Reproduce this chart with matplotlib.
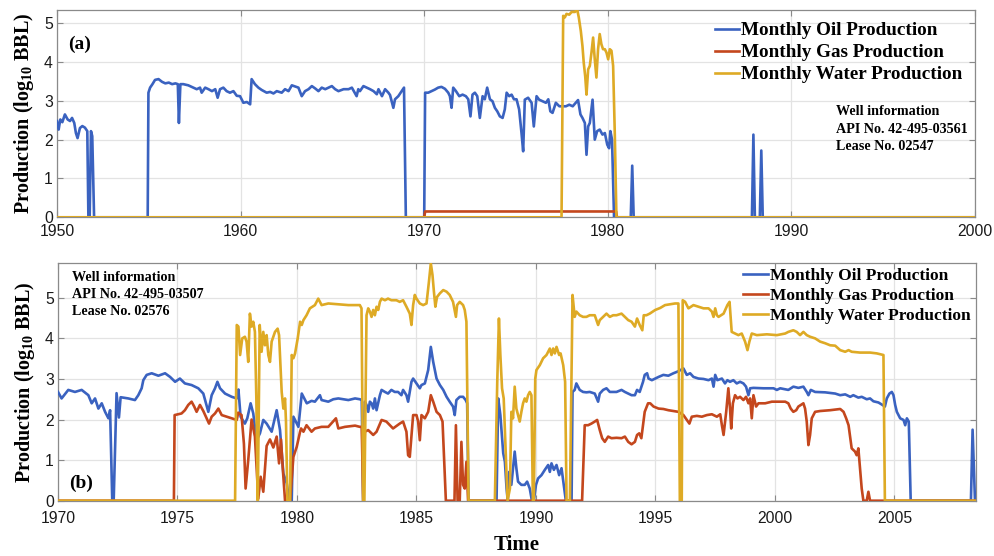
import matplotlib
matplotlib.use("Agg")
import matplotlib.pyplot as plt
import numpy as np

# ---------------- Panel (a) data: API 42-495-03561 ----------------
a_oil_t = [1950.00, 1950.09, 1950.18, 1950.29, 1950.43, 1950.58, 1950.71, 1950.82, 1950.94, 1951.03,
           1951.12, 1951.25, 1951.38, 1951.52, 1951.65, 1951.71, 1951.78, 1951.85, 1951.92, 1952.02,
           1954.94, 1954.98, 1955.07, 1955.20, 1955.34, 1955.53, 1955.72, 1955.90, 1956.09, 1956.27,
           1956.45, 1956.58, 1956.64, 1956.72, 1956.88, 1957.15, 1957.42, 1957.61, 1957.79, 1957.88,
           1958.07, 1958.25, 1958.44, 1958.62, 1958.75, 1958.88, 1959.06, 1959.24, 1959.42, 1959.61,
           1959.79, 1959.97, 1960.15, 1960.34, 1960.52, 1960.60, 1960.78, 1960.97, 1961.15, 1961.42,
           1961.61, 1961.79, 1961.97, 1962.24, 1962.42, 1962.61, 1962.79, 1962.97, 1963.15, 1963.33,
           1963.51, 1963.70, 1963.88, 1964.06, 1964.24, 1964.42, 1964.61, 1964.79, 1964.97, 1965.15,
           1965.33, 1965.61, 1965.88, 1966.06, 1966.32, 1966.41, 1966.50, 1966.69, 1966.87, 1967.05,
           1967.24, 1967.42, 1967.51, 1967.70, 1967.87, 1968.05, 1968.14, 1968.32, 1968.41, 1968.59,
           1968.77, 1968.90, 1969.00, 1970.00, 1970.05, 1970.22, 1970.40, 1970.58, 1970.76, 1970.94,
           1971.13, 1971.31, 1971.40, 1971.49, 1971.58, 1971.73, 1971.91, 1972.09, 1972.27, 1972.40,
           1972.52, 1972.63, 1972.76, 1972.89, 1973.03, 1973.18, 1973.30, 1973.43, 1973.58, 1973.72,
           1973.85, 1973.98, 1974.12, 1974.27, 1974.39, 1974.49, 1974.63, 1974.76, 1974.89, 1975.03,
           1975.17, 1975.30, 1975.39, 1975.48, 1975.66, 1975.85, 1975.97, 1976.12, 1976.26, 1976.44,
           1976.63, 1976.76, 1976.87, 1976.99, 1977.17, 1977.36, 1977.54, 1977.72, 1977.90, 1978.09,
           1978.38, 1978.51, 1978.62, 1978.75, 1978.84, 1978.93, 1979.02, 1979.17, 1979.29, 1979.42,
           1979.56, 1979.71, 1979.84, 1979.97, 1980.07, 1980.14, 1980.23, 1980.34, 1981.25, 1981.33,
           1981.41, 1987.85, 1987.93, 1988.01, 1988.28, 1988.36, 1988.44, 2000.00]
a_oil_v = [2.48, 2.26, 2.52, 2.45, 2.65, 2.52, 2.48, 2.56, 2.43, 2.17,
           2.04, 2.30, 2.35, 2.31, 2.22, 0.00, 0.00, 2.22, 2.09, 0.00,
           0.00, 3.21, 3.34, 3.43, 3.54, 3.56, 3.49, 3.45, 3.47, 3.43,
           3.45, 3.43, 2.43, 3.43, 3.43, 3.40, 3.34, 3.30, 3.34, 3.21,
           3.34, 3.30, 3.25, 3.30, 3.08, 3.30, 3.34, 3.25, 3.21, 3.25,
           3.13, 3.12, 2.95, 2.97, 2.91, 3.56, 3.43, 3.34, 3.28, 3.21,
           3.23, 3.19, 3.25, 3.21, 3.30, 3.25, 3.40, 3.37, 3.34, 3.12,
           3.25, 3.30, 3.38, 3.32, 3.25, 3.34, 3.30, 3.34, 3.38, 3.30,
           3.25, 3.30, 3.30, 3.34, 3.12, 3.30, 3.25, 3.38, 3.34, 3.30,
           3.25, 3.17, 3.30, 3.12, 3.30, 3.21, 3.15, 2.82, 3.04, 3.12,
           3.25, 3.34, 0.00, 0.00, 3.21, 3.21, 3.25, 3.29, 3.34, 3.36,
           3.31, 3.21, 3.12, 2.82, 3.34, 3.25, 3.12, 3.16, 3.12, 3.04,
           2.60, 3.16, 3.21, 3.12, 2.56, 3.12, 3.04, 3.34, 3.04, 2.99,
           2.82, 2.73, 2.60, 2.56, 2.78, 3.21, 3.12, 3.16, 3.04, 3.04,
           2.78, 2.17, 1.70, 3.03, 3.08, 2.95, 2.34, 3.12, 3.03, 2.99,
           2.95, 3.04, 2.73, 2.69, 2.95, 2.86, 2.86, 2.86, 2.90, 2.86,
           3.02, 2.65, 2.56, 2.43, 1.61, 2.34, 2.43, 3.03, 2.00, 2.22,
           2.26, 2.13, 2.17, 1.87, 1.78, 2.22, 2.00, 0.00, 0.00, 1.33,
           0.00, 0.00, 2.13, 0.00, 0.00, 1.72, 0.00, 0.00]

a_gas_t = [1950.00, 1970.00, 1970.05, 1980.45, 1980.50, 2000.00]
a_gas_v = [0.00, 0.00, 0.15, 0.15, 0.00, 0.00]

a_wat_t = [1950.00, 1977.48, 1977.57, 1977.66, 1977.75, 1977.90, 1978.03, 1978.21, 1978.33, 1978.42,
           1978.53, 1978.62, 1978.69, 1978.77, 1978.84, 1978.93, 1979.02, 1979.11, 1979.20, 1979.29,
           1979.38, 1979.47, 1979.56, 1979.65, 1979.74, 1979.84, 1979.93, 1980.02, 1980.11, 1980.20,
           1980.29, 1980.38, 1980.47, 2000.00]
a_wat_v = [0.00, 0.00, 5.19, 5.15, 5.24, 5.22, 5.29, 5.29, 5.36, 5.15,
           4.80, 4.41, 3.98, 3.63, 3.16, 3.81, 3.90, 4.24, 4.63, 4.07,
           3.60, 4.33, 4.72, 4.46, 4.33, 4.33, 4.24, 4.07, 4.33, 4.29,
           3.90, 2.17, 0.00, 0.00]

# ---------------- Panel (b) data: API 42-495-03507 ----------------
b_oil_t = [1970.00, 1970.15, 1970.43, 1970.71, 1970.99, 1971.27, 1971.41, 1971.55, 1971.69, 1971.83,
           1971.97, 1972.11, 1972.18, 1972.27, 1972.33, 1972.45, 1972.55, 1972.62, 1972.94, 1973.22,
           1973.36, 1973.50, 1973.57, 1973.71, 1973.92, 1974.20, 1974.48, 1974.69, 1974.90, 1975.10,
           1975.31, 1975.59, 1975.87, 1976.08, 1976.29, 1976.43, 1976.57, 1976.67, 1976.78, 1976.99,
           1977.27, 1977.48, 1977.55, 1977.64, 1977.82, 1977.92, 1978.06, 1978.17, 1978.31, 1978.45,
           1978.59, 1978.73, 1978.94, 1979.15, 1979.29, 1979.43, 1979.57, 1979.68, 1979.78, 1979.85,
           1980.06, 1980.20, 1980.41, 1980.61, 1980.75, 1980.96, 1981.03, 1981.31, 1981.52, 1981.73,
           1981.94, 1982.15, 1982.43, 1982.63, 1982.71, 1982.77, 1982.84, 1982.91, 1982.98, 1983.05,
           1983.12, 1983.19, 1983.26, 1983.33, 1983.47, 1983.54, 1983.68, 1983.81, 1983.95, 1984.09,
           1984.23, 1984.37, 1984.44, 1984.58, 1984.65, 1984.79, 1984.86, 1985.00, 1985.14, 1985.21,
           1985.35, 1985.49, 1985.60, 1985.70, 1985.84, 1985.98, 1986.12, 1986.26, 1986.39, 1986.53,
           1986.60, 1986.67, 1986.81, 1986.95, 1987.06, 1987.12, 1987.18, 1988.35, 1988.42, 1988.51,
           1988.63, 1988.70, 1988.77, 1988.82, 1988.88, 1988.97, 1989.11, 1989.18, 1989.25, 1989.39,
           1989.53, 1989.63, 1989.74, 1989.83, 1989.91, 1990.00, 1990.09, 1990.23, 1990.37, 1990.51,
           1990.58, 1990.65, 1990.75, 1990.86, 1990.97, 1991.07, 1991.16, 1991.25, 1991.49, 1991.53,
           1991.62, 1991.69, 1991.83, 1991.97, 1992.11, 1992.25, 1992.46, 1992.60, 1992.67, 1992.81,
           1992.95, 1993.09, 1993.23, 1993.37, 1993.58, 1993.72, 1993.86, 1994.00, 1994.14, 1994.23,
           1994.34, 1994.48, 1994.55, 1994.65, 1994.71, 1994.85, 1994.99, 1995.13, 1995.33, 1995.54,
           1995.75, 1995.96, 1996.17, 1996.31, 1996.45, 1996.59, 1996.80, 1997.01, 1997.22, 1997.36,
           1997.43, 1997.50, 1997.59, 1997.78, 1997.91, 1998.01, 1998.12, 1998.26, 1998.40, 1998.54,
           1998.68, 1998.79, 1998.89, 1998.96, 1999.10, 1999.52, 1999.94, 2000.08, 2000.22, 2000.56,
           2000.77, 2000.98, 2001.19, 2001.33, 2001.40, 2001.50, 2001.68, 2002.10, 2002.52, 2002.73,
           2002.94, 2003.15, 2003.28, 2003.49, 2003.63, 2003.84, 2003.98, 2004.12, 2004.33, 2004.47,
           2004.60, 2004.68, 2004.79, 2004.89, 2004.96, 2005.03, 2005.10, 2005.24, 2005.38, 2005.45,
           2005.52, 2005.60, 2005.68, 2008.20, 2008.27, 2008.37, 2008.50]
b_oil_v = [2.68, 2.52, 2.73, 2.68, 2.73, 2.60, 2.40, 2.52, 2.27, 2.40,
           2.19, 2.03, 2.23, 0.00, 0.00, 2.65, 2.05, 2.55, 2.52, 2.48,
           2.60, 2.77, 2.97, 3.10, 3.14, 3.08, 3.14, 3.05, 2.93, 3.01,
           2.89, 2.85, 2.77, 2.64, 2.19, 2.60, 2.77, 2.93, 2.77, 2.64,
           2.56, 2.52, 2.74, 2.07, 1.90, 2.03, 2.40, 2.15, 1.49, 1.66,
           1.99, 1.90, 1.70, 2.23, 1.74, 0.67, 0.43, 0.00, 0.00, 2.07,
           1.82, 2.64, 2.40, 2.46, 2.44, 2.60, 2.48, 2.44, 2.50, 2.52,
           2.50, 2.48, 2.52, 2.50, 2.48, 0.00, 2.44, 2.36, 2.19, 2.44,
           2.40, 2.27, 2.52, 2.23, 2.60, 2.73, 2.68, 2.64, 2.73, 2.68,
           2.68, 2.60, 2.73, 2.60, 2.44, 2.93, 3.01, 2.89, 2.77, 2.85,
           2.89, 3.22, 3.79, 3.42, 3.01, 2.85, 2.73, 2.56, 2.44, 2.32,
           2.11, 2.48, 2.56, 2.56, 2.48, 2.40, 0.00, 0.00, 2.52, 2.11,
           1.17, 0.96, 0.30, 0.00, 0.71, 0.39, 1.21, 0.80, 0.47, 0.39,
           0.39, 0.47, 0.30, 0.00, 0.00, 0.39, 0.55, 0.63, 0.76, 0.88,
           0.71, 0.92, 0.76, 0.88, 0.63, 0.80, 0.39, 0.00, 0.00, 2.68,
           2.73, 2.89, 2.73, 2.68, 2.67, 2.68, 2.64, 2.44, 2.64, 2.73,
           2.77, 2.68, 2.68, 2.68, 2.73, 2.68, 2.64, 2.60, 2.60, 2.73,
           2.68, 2.93, 3.10, 3.14, 3.01, 2.97, 3.01, 3.05, 3.10, 3.08,
           3.14, 3.19, 3.26, 3.10, 3.14, 3.05, 3.01, 3.00, 2.97, 3.01,
           2.81, 3.10, 2.97, 3.01, 2.89, 2.97, 2.93, 2.97, 2.89, 2.93,
           2.89, 2.81, 2.60, 2.77, 2.78, 2.77, 2.77, 2.73, 2.77, 2.73,
           2.81, 2.78, 2.81, 2.68, 2.60, 2.73, 2.68, 2.67, 2.64, 2.60,
           2.62, 2.56, 2.60, 2.54, 2.56, 2.50, 2.52, 2.45, 2.42, 2.37,
           2.32, 2.52, 2.64, 2.68, 2.60, 2.36, 2.19, 2.03, 1.99, 1.86,
           2.03, 1.95, 0.00, 0.00, 1.75, 0.00, 0.00]

b_gas_t = [1970.00, 1974.85, 1974.88, 1975.03, 1975.17, 1975.31, 1975.45, 1975.59, 1975.70, 1975.80,
           1975.94, 1976.08, 1976.22, 1976.32, 1976.43, 1976.57, 1976.71, 1976.85, 1977.06, 1977.27,
           1977.48, 1977.54, 1977.68, 1977.78, 1977.85, 1977.96, 1978.10, 1978.24, 1978.38, 1978.48,
           1978.59, 1978.73, 1978.87, 1979.01, 1979.15, 1979.25, 1979.33, 1979.40, 1979.50, 1979.71,
           1979.85, 1979.99, 1980.13, 1980.17, 1980.27, 1980.40, 1980.61, 1980.75, 1981.03, 1981.31,
           1981.63, 1981.73, 1982.01, 1982.43, 1982.63, 1982.71, 1982.77, 1982.84, 1982.98, 1983.19,
           1983.33, 1983.54, 1983.74, 1984.02, 1984.30, 1984.44, 1984.58, 1984.65, 1984.72, 1984.86,
           1985.00, 1985.07, 1985.14, 1985.21, 1985.35, 1985.49, 1985.60, 1985.70, 1985.84, 1985.98,
           1986.09, 1986.23, 1986.59, 1986.65, 1986.72, 1986.81, 1986.88, 1986.95, 1987.02, 1987.09,
           1987.16, 1991.93, 1992.04, 1992.18, 1992.32, 1992.46, 1992.56, 1992.67, 1992.77, 1992.88,
           1993.02, 1993.16, 1993.37, 1993.58, 1993.72, 1993.86, 1994.00, 1994.14, 1994.23, 1994.32,
           1994.41, 1994.55, 1994.69, 1994.78, 1994.92, 1995.13, 1995.33, 1995.54, 1995.75, 1995.96,
           1996.17, 1996.31, 1996.42, 1996.52, 1996.73, 1996.94, 1997.15, 1997.36, 1997.57, 1997.71,
           1997.78, 1997.85, 1997.96, 1998.05, 1998.12, 1998.17, 1998.24, 1998.33, 1998.43, 1998.54,
           1998.68, 1998.79, 1998.89, 1998.96, 1999.03, 1999.10, 1999.21, 1999.31, 1999.59, 1999.87,
           2000.15, 2000.43, 2000.56, 2000.66, 2000.77, 2000.89, 2000.98, 2001.19, 2001.26, 2001.33,
           2001.40, 2001.47, 2001.54, 2001.68, 2001.89, 2002.31, 2002.73, 2002.87, 2002.98, 2003.08,
           2003.21, 2003.35, 2003.42, 2003.49, 2003.56, 2003.63, 2003.70, 2003.84, 2003.91, 2003.98,
           2008.50]
b_gas_v = [0.00, 0.00, 2.11, 2.13, 2.15, 2.23, 2.36, 2.44, 2.32, 2.19,
           2.36, 2.21, 2.03, 1.90, 2.07, 2.15, 2.27, 2.11, 2.07, 2.03,
           1.99, 2.17, 2.11, 1.40, 0.30, 1.00, 2.00, 1.58, 0.05, 0.59,
           0.22, 1.35, 1.51, 1.31, 1.58, 0.92, 1.51, 0.84, 0.00, 0.00,
           1.08, 1.33, 1.70, 1.78, 1.70, 1.86, 1.70, 1.78, 1.82, 1.82,
           2.03, 1.78, 1.82, 1.85, 1.82, 1.82, 0.00, 1.70, 1.74, 1.62,
           1.70, 1.99, 1.95, 1.78, 1.90, 1.95, 1.70, 1.12, 1.08, 2.11,
           2.11, 1.95, 1.49, 2.11, 2.03, 2.19, 2.60, 2.44, 2.19, 2.11,
           1.95, 0.00, 0.00, 1.86, 0.00, 0.00, 1.45, 0.39, 0.30, 0.96,
           0.00, 0.00, 1.86, 1.86, 1.90, 1.95, 1.99, 1.74, 1.54, 1.45,
           1.58, 1.54, 1.55, 1.54, 1.58, 1.45, 1.39, 1.45, 1.62, 1.66,
           1.54, 2.19, 2.40, 2.40, 2.32, 2.27, 2.26, 2.23, 2.21, 2.19,
           2.11, 1.99, 1.90, 2.07, 2.09, 2.07, 2.11, 2.13, 2.07, 2.13,
           1.86, 1.62, 2.19, 2.77, 2.27, 1.78, 2.40, 2.60, 2.52, 2.56,
           2.48, 2.56, 2.40, 2.52, 2.03, 2.60, 2.32, 2.40, 2.40, 2.44,
           2.44, 2.44, 2.40, 2.27, 2.19, 2.23, 2.32, 2.40, 2.27, 1.95,
           1.37, 1.62, 2.03, 2.19, 2.21, 2.23, 2.26, 2.19, 2.03, 1.86,
           1.29, 1.21, 1.12, 1.29, 0.80, 0.30, 0.00, 0.00, 0.22, 0.00,
           0.00]

b_wat_t = [1970.00, 1977.41, 1977.48, 1977.55, 1977.62, 1977.71, 1977.82, 1977.89, 1977.96, 1978.03,
           1978.10, 1978.17, 1978.24, 1978.30, 1978.36, 1978.44, 1978.52, 1978.59, 1978.66, 1978.73,
           1978.80, 1978.87, 1978.94, 1979.08, 1979.19, 1979.25, 1979.36, 1979.43, 1979.50, 1979.54,
           1979.60, 1979.71, 1979.78, 1979.85, 1979.92, 1980.03, 1980.13, 1980.20, 1980.27, 1980.40,
           1980.54, 1980.75, 1980.89, 1981.03, 1981.31, 1981.73, 1982.15, 1982.63, 1982.70, 1982.77,
           1982.82, 1982.91, 1982.98, 1983.05, 1983.12, 1983.19, 1983.26, 1983.33, 1983.40, 1983.47,
           1983.54, 1983.68, 1983.81, 1983.95, 1984.16, 1984.30, 1984.44, 1984.58, 1984.72, 1984.79,
           1984.86, 1984.93, 1985.00, 1985.14, 1985.28, 1985.42, 1985.52, 1985.60, 1985.67, 1985.73,
           1985.79, 1985.86, 1985.98, 1986.12, 1986.26, 1986.39, 1986.53, 1986.65, 1986.70, 1986.81,
           1986.95, 1987.02, 1987.09, 1987.18, 1988.28, 1988.38, 1988.45, 1988.51, 1988.58, 1988.65,
           1988.74, 1988.81, 1988.91, 1988.97, 1989.04, 1989.11, 1989.18, 1989.25, 1989.32, 1989.39,
           1989.46, 1989.53, 1989.60, 1989.67, 1989.74, 1989.81, 1989.87, 1989.91, 1989.97, 1990.02,
           1990.16, 1990.30, 1990.44, 1990.58, 1990.65, 1990.72, 1990.79, 1990.86, 1990.97, 1991.03,
           1991.14, 1991.22, 1991.28, 1991.42, 1991.53, 1991.62, 1991.69, 1991.83, 1991.97, 1992.11,
           1992.25, 1992.46, 1992.60, 1992.67, 1992.81, 1992.95, 1993.09, 1993.23, 1993.37, 1993.58,
           1993.72, 1993.86, 1994.00, 1994.14, 1994.23, 1994.34, 1994.45, 1994.51, 1994.62, 1994.76,
           1994.99, 1995.20, 1995.40, 1995.61, 1995.82, 1995.96, 1996.02, 1996.10, 1996.14, 1996.24,
           1996.38, 1996.59, 1996.80, 1997.01, 1997.22, 1997.36, 1997.43, 1997.50, 1997.57, 1997.64,
           1997.85, 1998.01, 1998.10, 1998.19, 1998.33, 1998.47, 1998.61, 1998.75, 1998.85, 1998.93,
           1999.03, 1999.24, 1999.66, 2000.08, 2000.43, 2000.56, 2000.77, 2000.91, 2001.05, 2001.19,
           2001.33, 2001.47, 2001.68, 2001.89, 2002.10, 2002.31, 2002.52, 2002.73, 2002.94, 2003.08,
           2003.21, 2003.56, 2003.98, 2004.26, 2004.54, 2004.60, 2008.50]
b_wat_v = [0.00, 0.00, 4.33, 4.29, 3.59, 4.00, 4.04, 3.92, 3.42, 4.61,
           4.29, 4.41, 4.16, 2.50, 0.00, 4.33, 3.67, 4.16, 3.83, 4.08,
           3.59, 3.42, 3.92, 4.16, 4.24, 4.08, 2.68, 2.27, 2.52, 1.95,
           0.00, 0.00, 3.59, 3.51, 3.63, 4.00, 4.41, 4.33, 4.45, 4.57,
           4.74, 4.82, 4.98, 4.82, 4.86, 4.84, 4.82, 4.82, 4.74, 0.00,
           0.00, 4.57, 4.74, 4.66, 4.53, 4.70, 4.57, 4.78, 4.70, 4.90,
           4.98, 4.94, 4.98, 4.94, 4.94, 4.90, 4.94, 4.78, 4.61, 4.33,
           4.82, 5.07, 4.98, 4.86, 4.82, 4.86, 5.39, 5.85, 5.56, 5.15,
           4.78, 5.02, 5.11, 5.19, 5.15, 5.07, 4.90, 4.53, 4.82, 4.90,
           4.82, 4.70, 4.41, 0.00, 0.00, 2.93, 4.49, 3.59, 2.77, 2.52,
           1.12, 0.00, 0.30, 2.19, 2.03, 2.81, 2.27, 2.11, 1.95, 2.19,
           2.40, 2.52, 2.44, 2.60, 2.68, 2.60, 0.00, 0.00, 3.01, 3.22,
           3.34, 3.51, 3.59, 3.75, 3.59, 3.75, 3.63, 3.79, 3.59, 3.63,
           3.34, 2.93, 0.00, 0.00, 5.07, 4.53, 4.66, 4.57, 4.53, 4.53,
           4.57, 4.57, 4.33, 4.45, 4.53, 4.61, 4.53, 4.57, 4.57, 4.61,
           4.53, 4.45, 4.41, 4.29, 4.49, 4.33, 4.20, 4.57, 4.57, 4.61,
           4.70, 4.75, 4.82, 4.84, 4.86, 4.86, 0.00, 0.00, 4.94, 4.90,
           4.74, 4.82, 4.78, 4.74, 4.74, 4.66, 4.53, 4.74, 4.57, 4.53,
           4.61, 4.82, 4.90, 4.16, 4.12, 4.08, 4.12, 3.92, 3.71, 3.92,
           4.12, 4.08, 4.10, 4.08, 4.12, 4.16, 4.20, 4.16, 4.08, 4.16,
           4.08, 4.04, 4.00, 3.92, 3.88, 3.83, 3.82, 3.71, 3.67, 3.71,
           3.67, 3.65, 3.65, 3.63, 3.59, 0.00, 0.00]

series_labels = ["Monthly Oil Production", "Monthly Gas Production", "Monthly Water Production"]
a_xticks = [1950, 1960, 1970, 1980, 1990, 2000]
b_xticks = [1970, 1975, 1980, 1985, 1990, 1995, 2000, 2005]
yticks = [0, 1, 2, 3, 4, 5]
a_info = ["Well information", "API No. 42-495-03561", "Lease No. 02547"]
b_info = ["Well information", "API No. 42-495-03507", "Lease No. 02576"]

# ---------------- styling ----------------
C_OIL, C_GAS, C_WAT = "#3A62C0", "#C4471D", "#DEAA25"
SERIF = "Liberation Serif"
SANS = "Liberation Sans"
plt.rcParams["mathtext.fontset"] = "custom"
plt.rcParams["mathtext.rm"] = "Liberation Serif:bold"
plt.rcParams["mathtext.it"] = "Liberation Serif:bold"
plt.rcParams["mathtext.bf"] = "Liberation Serif:bold"

W, H = 995, 556
fig = plt.figure(figsize=(W / 100, H / 100), dpi=100)
fig.patch.set_facecolor("white")


def px_axes(l, t, r, b):
    return fig.add_axes([l / W, 1 - b / H, (r - l) / W, (b - t) / H])


def style(ax, xlim, ylim, xticks, xpad):
    ax.set_xlim(*xlim)
    ax.set_ylim(*ylim)
    ax.set_xticks(xticks)
    ax.set_yticks(yticks)
    ax.grid(True, color="#e3e3e3", linewidth=0.9)
    ax.set_axisbelow(True)
    for s in ax.spines.values():
        s.set_color("#8a8a8a")
        s.set_linewidth(0.9)
    ax.tick_params(direction="in", length=4.5, width=0.8, color="#8a8a8a",
                   top=True, right=True, labelsize=11.3, pad=3)
    ax.tick_params(axis="x", pad=xpad)
    for lab in ax.get_xticklabels() + ax.get_yticklabels():
        lab.set_family(SANS)
        lab.set_color("#1a1a1a")


ylab = "Production (log$_{10}$ BBL)"
LW = 1.9

# ---- panel (a)
ax1 = px_axes(57, 10, 975, 217.3)
ax1.plot(a_oil_t, a_oil_v, color=C_OIL, lw=LW, label=series_labels[0], zorder=3)
ax1.plot(a_gas_t, a_gas_v, color=C_GAS, lw=LW, label=series_labels[1], zorder=3)
ax1.plot(a_wat_t, a_wat_v, color=C_WAT, lw=LW, label=series_labels[2], zorder=3)
style(ax1, (1950, 2000), (0, 5.34), a_xticks, 5.0)
ax1.set_ylabel(ylab, family=SERIF, weight="bold", fontsize=14.5, labelpad=6)
leg1 = ax1.legend(loc="upper left", bbox_to_anchor=(0.712, 0.966), frameon=False,
                  prop={"family": SERIF, "weight": "bold", "size": 13.8},
                  handlelength=1.25, handletextpad=0.1, labelspacing=0.24,
                  borderpad=0.0, borderaxespad=0.25)
ax1.text(0.0125, 0.835, "(a)", transform=ax1.transAxes, family=SERIF, weight="bold",
         fontsize=14, va="center", ha="left")
for i, s in enumerate(a_info):
    ax1.text(0.849, 0.510 - i * 0.0845, s, transform=ax1.transAxes, family=SERIF,
             weight="bold", fontsize=10.2, va="center", ha="left")

# ---- panel (b)
ax2 = px_axes(58, 263.3, 975.7, 500.7)
ax2.plot(b_oil_t, b_oil_v, color=C_OIL, lw=LW, label=series_labels[0], zorder=3)
ax2.plot(b_gas_t, b_gas_v, color=C_GAS, lw=LW, label=series_labels[1], zorder=3)
ax2.plot(b_wat_t, b_wat_v, color=C_WAT, lw=LW, label=series_labels[2], zorder=3)
style(ax2, (1970, 2008.4), (0, 5.85), b_xticks, 7.7)
ax2.set_ylabel(ylab, family=SERIF, weight="bold", fontsize=14.5, labelpad=6)
ax2.set_xlabel("Time", family=SERIF, weight="bold", fontsize=15, labelpad=6.5)
leg2 = ax2.legend(loc="upper left", bbox_to_anchor=(0.7435, 0.992), frameon=False,
                  prop={"family": SERIF, "weight": "bold", "size": 12.5},
                  handlelength=1.45, handletextpad=0.12, labelspacing=0.22,
                  borderpad=0.0, borderaxespad=0.15)
ax2.text(0.0125, 0.075, "(b)", transform=ax2.transAxes, family=SERIF, weight="bold",
         fontsize=14, va="center", ha="left")
for i, s in enumerate(b_info):
    ax2.text(0.015, 0.942 - i * 0.0716, s, transform=ax2.transAxes, family=SERIF,
             weight="bold", fontsize=10.2, va="center", ha="left")

fig.savefig("out.png", dpi=100, facecolor="white")
